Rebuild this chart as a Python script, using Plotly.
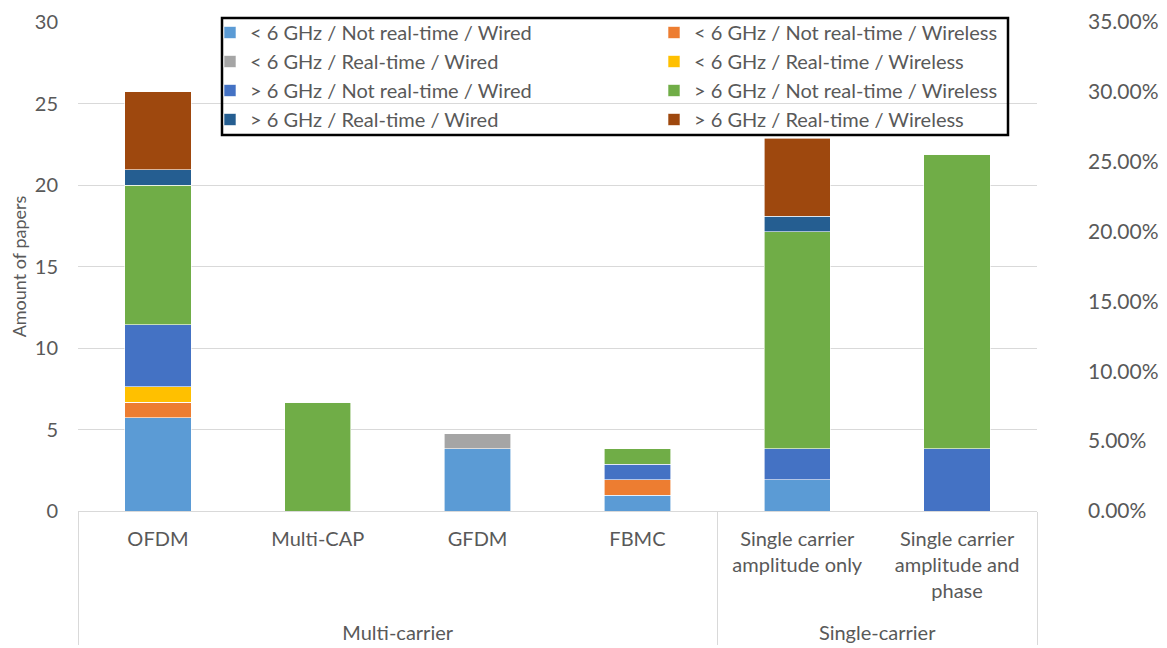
import plotly.graph_objects as go

groups = ["<br>Multi-carrier", "<br>Multi-carrier", "<br>Multi-carrier", "<br>Multi-carrier",
          "<br>Single-carrier", "<br>Single-carrier"]
categories = ["OFDM", "Multi-CAP", "GFDM", "FBMC",
              "Single carrier<br>amplitude only",
              "Single carrier<br>amplitude and<br>phase"]

series_names = [
    "< 6 GHz / Not real-time / Wired",
    "< 6 GHz / Not real-time / Wireless",
    "< 6 GHz / Real-time / Wired",
    "< 6 GHz / Real-time / Wireless",
    "> 6 GHz / Not real-time / Wired",
    "> 6 GHz / Not real-time / Wireless",
    "> 6 GHz / Real-time / Wired",
    "> 6 GHz / Real-time / Wireless",
]
colors = ["#5B9BD5", "#ED7D31", "#A5A5A5", "#FFC000",
          "#4472C4", "#70AD47", "#255E91", "#9E480E"]
legend_column = ["legend", "legend2", "legend", "legend2",
                 "legend", "legend2", "legend", "legend2"]

# share of papers (%) per category
lt6_nrt_wired    = [6.67, 0.00, 4.44, 1.11, 2.22, 0.00]
lt6_nrt_wireless = [1.11, 0.00, 0.00, 1.11, 0.00, 0.00]
lt6_rt_wired     = [0.00, 0.00, 1.11, 0.00, 0.00, 0.00]
lt6_rt_wireless  = [1.11, 0.00, 0.00, 0.00, 0.00, 0.00]
gt6_nrt_wired    = [4.44, 0.00, 0.00, 1.11, 2.22, 4.44]
gt6_nrt_wireless = [10.00, 7.78, 0.00, 1.11, 15.56, 21.11]
gt6_rt_wired     = [1.11, 0.00, 0.00, 0.00, 1.11, 0.00]
gt6_rt_wireless  = [5.56, 0.00, 0.00, 0.00, 5.56, 0.00]

series_values = [lt6_nrt_wired, lt6_nrt_wireless, lt6_rt_wired, lt6_rt_wireless,
                 gt6_nrt_wired, gt6_nrt_wireless, gt6_rt_wired, gt6_rt_wireless]

left_ticks = [0, 5, 10, 15, 20, 25, 30]
right_ticks = [0, 0.05, 0.10, 0.15, 0.20, 0.25, 0.30, 0.35]

FONT = "Lato, Liberation Sans, sans-serif"
GRAY = "#595959"

fig = go.Figure()
for name, vals, col, lg in zip(series_names, series_values, colors, legend_column):
    fig.add_trace(go.Bar(
        x=[groups, categories],
        y=[v / 100 for v in vals],
        name=name,
        marker=dict(color=col, line=dict(width=0.6, color="white")),
        yaxis="y2",
        legend=lg,
    ))

# invisible trace to activate the left axis
fig.add_trace(go.Bar(x=[groups, categories], y=[0]*6, showlegend=False,
                     hoverinfo="skip", marker_color="rgba(0,0,0,0)"))

# page body has an 8px margin: figure is sized to fit the window
W, H = 1159, 640
L, T = 70, 14
PR, PB = 1029, 503          # plot right / bottom in figure px
R = W - PR
B = H - PB


def px_x(x):
    return (x - L) / (PR - L)


def px_y(y):
    return (PB - y) / (PB - T)


legend_common = dict(
    orientation="v",
    yanchor="top", xanchor="left",
    y=px_y(5),
    bgcolor="rgba(255,255,255,0)",
    borderwidth=0,
    font=dict(size=20, color=GRAY),
    traceorder="normal",
)

fig.update_layout(
    width=W, height=H,
    barmode="stack",
    bargap=0.585,
    paper_bgcolor="white",
    plot_bgcolor="white",
    font=dict(family=FONT, color=GRAY, size=20),
    margin=dict(l=L, r=R, t=T, b=B, autoexpand=False),
    xaxis=dict(
        type="multicategory",
        automargin=False,
        showline=True, linecolor="#D9D9D9", linewidth=1,
        showdividers=True, dividercolor="#D9D9D9", dividerwidth=1,
        tickfont=dict(size=20, color=GRAY, family=FONT),
        ticks="",
        ticklabelstandoff=10,
    ),
    yaxis=dict(
        range=[0, 30], tickvals=left_ticks,
        automargin=False,
        showgrid=True, gridcolor="#D9D9D9", gridwidth=1,
        zeroline=False,
        tickfont=dict(size=20, color=GRAY),
        title=dict(text="Amount of papers", font=dict(size=18, color=GRAY), standoff=8),
        ticks="", ticklabelstandoff=19,
    ),
    yaxis2=dict(
        range=[0, 0.35], tickvals=right_ticks, tickformat=".2%",
        automargin=False,
        overlaying="y", side="right", showgrid=False, zeroline=False,
        tickfont=dict(size=21, color=GRAY),
        ticklabelstandoff=50,
    ),
    legend=dict(legend_common, x=px_x(202)),
    legend2=dict(legend_common, x=px_x(646)),
    shapes=[dict(
        type="rect", xref="paper", yref="paper",
        x0=px_x(214), x1=px_x(1000), y0=px_y(127), y1=px_y(10),
        line=dict(color="black", width=2.5), fillcolor="rgba(0,0,0,0)",
        layer="above",
    )],
)

fig.write_html("out.html")
